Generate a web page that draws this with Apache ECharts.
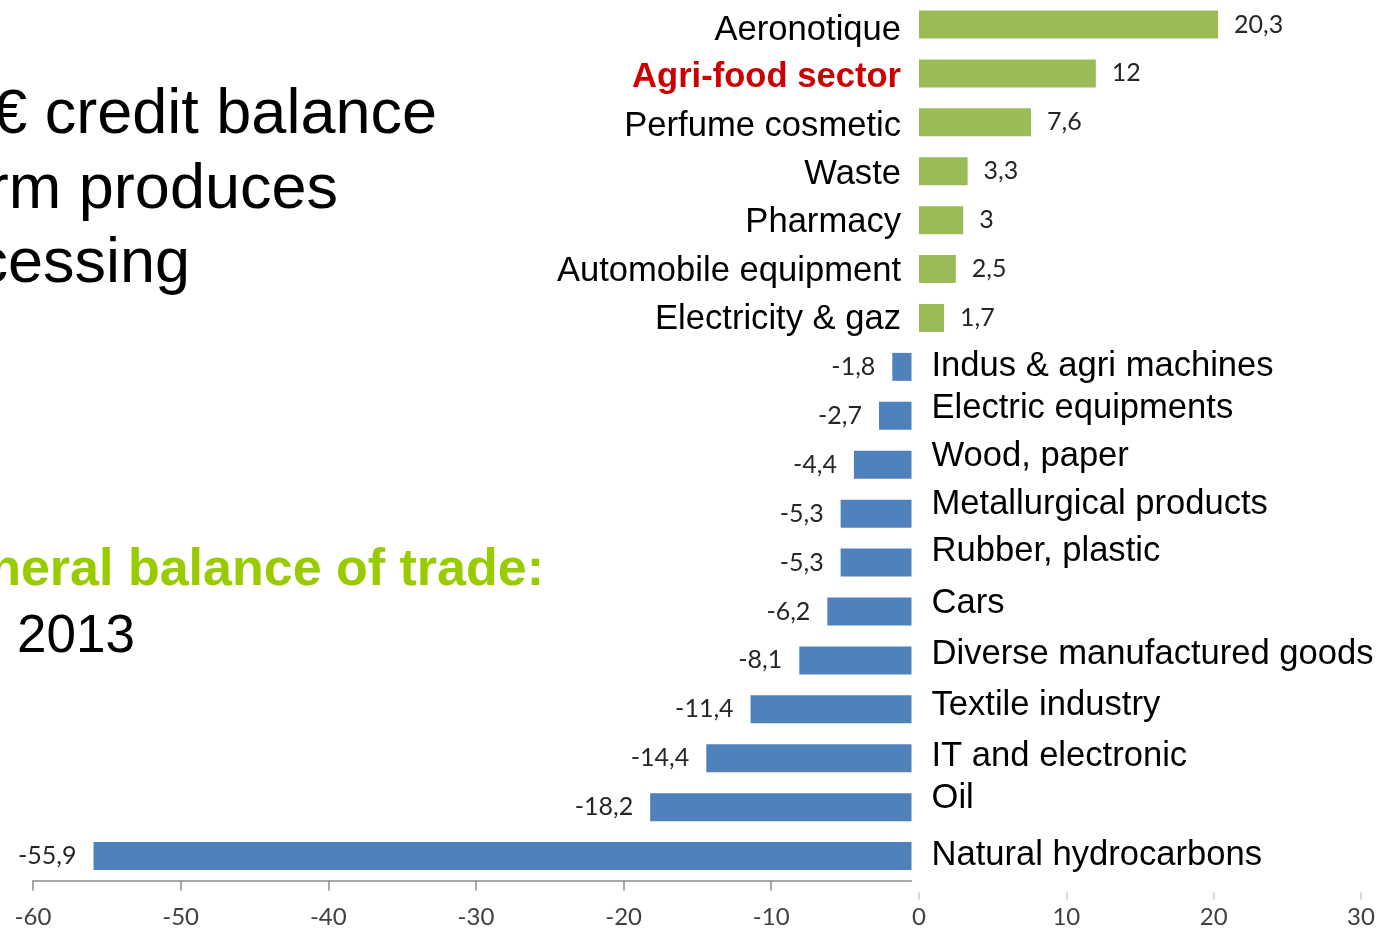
<!DOCTYPE html>
<html><head><meta charset="utf-8">
<script src="https://cdn.jsdelivr.net/npm/echarts@6/dist/echarts.min.js"></script>
<style>html,body{margin:0;padding:0;background:#fff;overflow:hidden}#c{width:1381px;height:935px}</style>
</head><body><div id="c"></div>
<script>
// ---- data ----
const categories = ['Aeronotique','Agri-food sector','Perfume cosmetic','Waste','Pharmacy','Automobile equipment','Electricity & gaz','Indus & agri machines','Electric equipments','Wood, paper','Metallurgical products','Rubber, plastic','Cars','Diverse manufactured goods','Textile industry','IT and electronic','Oil','Natural hydrocarbons'];
const values = [20.3, 12, 7.6, 3.3, 3, 2.5, 1.7, -1.8, -2.7, -4.4, -5.3, -5.3, -6.2, -8.1, -11.4, -14.4, -18.2, -55.9];
const negTicks = [-60, -50, -40, -30, -20, -10];
const posTicks = [0, 10, 20, 30];
const highlighted = 'Agri-food sector';
const slideText1 = ['€ credit balance', 'rm produces', 'cessing'];
const slideText2 = ['neral balance of trade:', '2013'];

// ---- layout / style (not data) ----
// vertical nudge (px) of each category label relative to its bar, as placed on the original slide
const labelNudge = [6, 4, 4, 3, 2, 2, 2, 0, -7, -8, -9, -11, -8, -6, -4, -2, -9, -1];
const fmt = v => String(v).replace('.', ',');
const tickFont = 'Lato';
const catFont = 'Liberation Sans';
const catSize = 34.6;
const gTop = -2.5, gHeight = 883;

const rich = {};
labelNudge.forEach((d, i) => {
  const pad = d >= 0 ? [2 * d, 0, 0, 0] : [0, 0, -2 * d, 0];
  const isHl = categories[i] === highlighted;
  rich['r' + i] = {
    padding: pad, fontSize: catSize, fontFamily: catFont,
    color: isHl ? '#CC0000' : '#000', fontWeight: isHl ? 'bold' : 'normal'
  };
});
const catLabel = (v, i) => '{r' + i + '|' + v + '}';

const posData = values.map(v => v > 0 ? v : '-');
const negData = values.map(v => v < 0 ? v : '-');

const chart = echarts.init(document.getElementById('c'), null, {renderer: 'canvas'});
chart.setOption({
  backgroundColor: '#ffffff',
  animation: false,
  grid: [
    {left: 33, right: 469.5, top: gTop, height: gHeight, containLabel: false},
    {left: 919, right: 20, top: gTop, height: gHeight, containLabel: false}
  ],
  xAxis: [
    {
      gridIndex: 0, type: 'value',
      min: negTicks[0], max: -0.5, interval: 10,
      splitLine: {show: false},
      axisLine: {show: true, lineStyle: {color: '#8c8c8c', width: 1.5}},
      axisTick: {show: true, length: 10, lineStyle: {color: '#8c8c8c', width: 1.5}},
      axisLabel: {showMaxLabel: false, margin: 25, fontSize: 24, fontFamily: tickFont, color: '#404040', formatter: v => String(v)}
    },
    {
      gridIndex: 1, type: 'value',
      min: posTicks[0], max: posTicks[posTicks.length - 1], interval: 10,
      offset: 12,
      splitLine: {show: false},
      axisLine: {show: false},
      axisTick: {show: true, length: 7, lineStyle: {color: '#c8c8c8', width: 1.5}},
      axisLabel: {margin: 13, fontSize: 24, fontFamily: tickFont, color: '#404040', formatter: v => String(v)}
    }
  ],
  yAxis: [
    {
      gridIndex: 0, type: 'category', data: categories, inverse: true, position: 'right',
      axisLine: {show: false}, axisTick: {show: false}, splitLine: {show: false},
      axisLabel: {
        margin: 20, fontSize: catSize, fontFamily: catFont, color: '#000',
        formatter: (v, i) => values[i] < 0 ? catLabel(v, i) : '',
        rich: rich
      }
    },
    {
      gridIndex: 1, type: 'category', data: categories, inverse: true, position: 'left',
      axisLine: {show: false}, axisTick: {show: false}, splitLine: {show: false},
      axisLabel: {
        margin: 18, fontSize: catSize, fontFamily: catFont, color: '#000',
        formatter: (v, i) => values[i] > 0 ? catLabel(v, i) : '',
        rich: rich
      }
    }
  ],
  series: [
    {
      type: 'bar', xAxisIndex: 0, yAxisIndex: 0, data: negData, barWidth: 28,
      itemStyle: {color: '#4F81BD'},
      label: {show: true, position: 'left', distance: 17, fontSize: 25, fontFamily: tickFont, color: '#262626', formatter: p => fmt(p.value)}
    },
    {
      type: 'bar', xAxisIndex: 1, yAxisIndex: 1, data: posData, barWidth: 28,
      itemStyle: {color: '#9BBB59'},
      label: {show: true, position: 'right', distance: 16, fontSize: 25, fontFamily: tickFont, color: '#262626', formatter: p => fmt(p.value)}
    }
  ],
  graphic: [
    {type: 'text', x: 437, y: 116, style: {text: slideText1[0], font: '63px "Liberation Sans"', fill: '#000', textAlign: 'right', textVerticalAlign: 'middle'}},
    {type: 'text', x: 338, y: 191, style: {text: slideText1[1], font: '63px "Liberation Sans"', fill: '#000', textAlign: 'right', textVerticalAlign: 'middle'}},
    {type: 'text', x: 190, y: 265, style: {text: slideText1[2], font: '63px "Liberation Sans"', fill: '#000', textAlign: 'right', textVerticalAlign: 'middle'}},
    {type: 'text', x: 544, y: 571, style: {text: slideText2[0], font: 'bold 52px "Liberation Sans"', fill: '#99CC00', textAlign: 'right', textVerticalAlign: 'middle'}},
    {type: 'text', x: 17, y: 637, style: {text: slideText2[1], font: '53px "Liberation Sans"', fill: '#000', textAlign: 'left', textVerticalAlign: 'middle'}}
  ]
});
</script>
</body></html>
